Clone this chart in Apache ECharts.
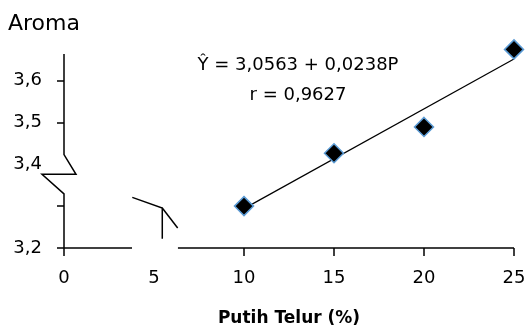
<!DOCTYPE html>
<html>
<head>
<meta charset="utf-8">
<script src="https://cdn.jsdelivr.net/npm/echarts@6/dist/echarts.min.js"></script>
<style>
  html, body { margin: 0; padding: 0; background: #fff; }
  #chart { width: 532px; height: 329px; }
</style>
</head>
<body>
<div id="chart"></div>
<script>
// putih telur (%) vs aroma score
const xValues = [10, 15, 20, 25];
const aromaValues = [3.30, 3.426, 3.489, 3.674];
// regression line end points
const trendX = [10, 25];
const trendY = [3.294, 3.651];
const xLabelTicks = [0, 5, 10, 15, 20, 25];
const xTickMarks = [0, 10, 15, 20, 25];
const yLabelTicks = [3.2, 3.4, 3.5, 3.6];
const yTickMarks = [3.2, 3.3, 3.5, 3.6];
const yMin = 3.2;
const yMax = 3.663;

const font = '"DejaVu Sans", sans-serif';
const chart = echarts.init(document.getElementById("chart"));

const option = {
  animation: false,
  title: {
    text: "Aroma",
    left: 3,
    top: 8,
    textStyle: { fontFamily: font, fontSize: 22, fontWeight: "normal", color: "#000" }
  },
  grid: { left: 64, right: 18, top: 54, bottom: 81, outerBoundsMode: "none" },
  xAxis: {
    type: "value",
    min: 0,
    max: 25,
    interval: 5,
    axisLine: { show: false },
    splitLine: { show: false },
    axisTick: {
      show: true,
      length: 8,
      customValues: xTickMarks,
      lineStyle: { color: "#000", width: 1.5 }
    },
    axisLabel: {
      margin: 21,
      customValues: xLabelTicks,
      fontFamily: font,
      fontSize: 18,
      color: "#000"
    },
    name: "Putih Telur (%)",
    nameLocation: "middle",
    nameGap: 62,
    nameTextStyle: { fontFamily: font, fontSize: 17, fontWeight: "bold", color: "#000" }
  },
  yAxis: {
    type: "value",
    min: yMin,
    max: yMax,
    interval: 0.1,
    axisLine: { show: false },
    splitLine: { show: false },
    axisTick: {
      show: true,
      length: 7,
      customValues: yTickMarks,
      lineStyle: { color: "#000", width: 1.5 }
    },
    axisLabel: {
      margin: 22,
      customValues: yLabelTicks,
      fontFamily: font,
      fontSize: 18,
      color: "#000",
      formatter: (v) => v.toFixed(1).replace(".", ",")
    }
  },
  series: [
    {
      type: "line",
      data: trendX.map((x, i) => [x, trendY[i]]),
      symbol: "none",
      lineStyle: { color: "#000", width: 1.2 },
      z: 2
    },
    {
      type: "scatter",
      data: xValues.map((x, i) => [x, aromaValues[i]]),
      symbol: "diamond",
      symbolSize: 19,
      clip: false,
      itemStyle: { color: "#000", borderColor: "#5b9bd5", borderWidth: 1.5, opacity: 1 },
      z: 3
    }
  ]
};
chart.setOption(option);

// axis lines with break marks, drawn after the grid is laid out
const px = (x, y) => chart.convertToPixel({ gridIndex: 0 }, [x, y]);
const [x0, y0] = px(0, yMin);
const yTop = px(0, yMax)[1];
const yb1 = px(0, 3.423)[1];
const yb2 = px(0, 3.329)[1];
const ymid = (yb1 + yb2) / 2;
const xGapL = px(3.78, yMin)[0];
const xGapR = px(6.33, yMin)[0];
const xEnd = px(25, yMin)[0];
const xb = px(5.46, yMin)[0];
const stroke = { stroke: "#000", lineWidth: 1.5, fill: null };

chart.setOption({
  graphic: [
    { type: "polyline", shape: { points: [[x0, yTop], [x0, yb1], [x0 + 12, ymid], [x0 - 22, ymid], [x0, yb2], [x0, y0]] }, style: stroke },
    { type: "polyline", shape: { points: [[x0, y0], [xGapL, y0]] }, style: stroke },
    { type: "polyline", shape: { points: [[xGapR, y0], [xEnd, y0]] }, style: stroke },
    { type: "polyline", shape: { points: [[xb - 30, y0 - 50.6], [xb, y0 - 40], [xb, y0 - 9.3]] }, style: stroke },
    { type: "polyline", shape: { points: [[xb, y0 - 40], [xb + 15.4, y0 - 20]] }, style: stroke },
    {
      type: "text", x: 298, y: 65,
      style: { text: "Ŷ = 3,0563 + 0,0238P", font: '18px "DejaVu Sans"', fill: "#000", align: "center", verticalAlign: "middle" }
    },
    {
      type: "text", x: 298, y: 95,
      style: { text: "r = 0,9627", font: '18px "DejaVu Sans"', fill: "#000", align: "center", verticalAlign: "middle" }
    }
  ]
});
</script>
</body>
</html>
